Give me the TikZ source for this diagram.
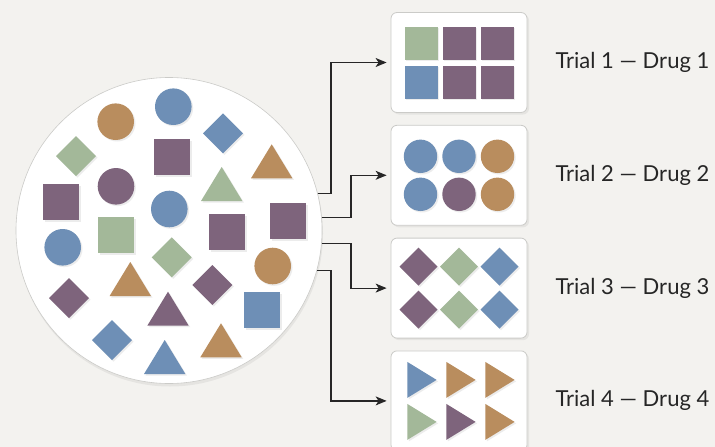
\documentclass[tikz,border=0pt]{standalone}
\usepackage{fontspec}
\setmainfont{Lato}
\usepackage{xcolor}
\usetikzlibrary{arrows.meta,positioning,shadows}
\definecolor{paper}{HTML}{F3F2EF}
\definecolor{plum}{HTML}{7E647C}
\definecolor{sage}{HTML}{A3B899}
\definecolor{steel}{HTML}{6E8FB6}
\definecolor{ochre}{HTML}{B98D5E}
\definecolor{rim}{HTML}{CBCBC8}
\definecolor{ink}{HTML}{262626}

\begin{document}
\begin{tikzpicture}[
  x=1pt,y=-1pt,
  pool/.style={circle,fill=white,draw=rim,line width=0.6pt,minimum size=306pt,inner sep=0pt,
    drop shadow={opacity=0.12,shadow xshift=1pt,shadow yshift=-3pt}},
  trialbox/.style={rectangle,rounded corners=6pt,fill=white,draw=rim,line width=0.8pt,
    minimum width=136pt,minimum height=100pt,inner sep=0pt,
    drop shadow={opacity=0.12,shadow xshift=2pt,shadow yshift=-2pt}},
  shp/.style={drop shadow={opacity=0.15,shadow xshift=1.5pt,shadow yshift=-1.5pt}},
  lbl/.style={inner sep=0pt,text=ink,font=\fontsize{22}{26}\selectfont},
  arr/.style={-{Stealth[length=11pt,width=9pt,inset=3pt]},line width=1.2pt,draw=ink,shorten >=4pt}
]
\useasboundingbox (0,0) rectangle (715,447);
\fill[paper] (0,0) rectangle (715,447);
\clip (0,0) rectangle (715,447);

% population
\node[pool] (pool) at (169,230.5) {};
\foreach \c/\x/\y in {ochre/115.7/121.7, steel/173.3/106.7, plum/116/186.3,
    steel/169.3/209, steel/62.7/247.3, ochre/272.7/266}
  \fill[\c,shp] (\x,\y) circle[radius=18.3];
\foreach \c/\x/\y in {plum/172/157, plum/61/202, plum/227/232,
    plum/288/221, sage/116/235, steel/262/310}
  \fill[\c,shp] (\x,\y) ++(-18,-18) rectangle ++(36,36);
\foreach \c/\x/\y in {steel/223/133.3, sage/76/156, sage/171.7/257.3,
    plum/212.3/285, plum/69/298, steel/112/340}
  \fill[\c,shp] (\x,\y) ++(0,-20) -- ++(20,20) -- ++(-20,20) -- ++(-20,-20) -- cycle;
\foreach \c/\x/\y in {ochre/271.7/144.3, sage/221.7/167, ochre/130.3/262,
    plum/168/291.7, ochre/221/323.3, steel/164.7/340}
  \fill[\c,shp] (\x,\y) -- ++(20.7,34) -- ++(-41.4,0) -- cycle;

% trials
\node[trialbox] (t1) at (459,62.5) {};
\node[trialbox,below=12pt of t1] (t2) {};
\node[trialbox,below=12pt of t2] (t3) {};
\node[trialbox,below=12pt of t3] (t4) {};

\begin{scope}[shift={(t1)}]
\foreach \c/\x/\y in {sage/-38/-19.5, plum/0/-19.5, plum/38/-19.5,
    steel/-38/19.5, plum/0/19.5, plum/38/19.5}
  \fill[\c,shp] (\x,\y) ++(-16.5,-16.5) rectangle ++(33,33);
\end{scope}
\begin{scope}[shift={(t2)}]
\foreach \c/\x/\y in {steel/-38.5/-19, steel/0/-19, ochre/38.5/-19,
    steel/-38.5/19, plum/0/19, ochre/38.5/19}
  \fill[\c,shp] (\x,\y) circle[radius=16.7];
\end{scope}
\begin{scope}[shift={(t3)}]
\foreach \c/\x/\y in {plum/-40.5/-21.5, sage/0/-21.5, steel/40.5/-21.5,
    plum/-40.5/21.5, sage/0/21.5, steel/40.5/21.5}
  \fill[\c,shp] (\x,\y) ++(0,-19) -- ++(19,19) -- ++(-19,19) -- ++(-19,-19) -- cycle;
\end{scope}
\begin{scope}[shift={(t4)}]
\foreach \c/\x/\y in {steel/-51.7/-21, ochre/-12.7/-21, ochre/26.3/-21,
    sage/-51.7/21, plum/-12.7/21, ochre/26.3/21}
  \fill[\c,shp] (\x,\y) ++(0,-18) -- ++(29.3,18) -- ++(-29.3,18) -- cycle;
\end{scope}

% connectors
\coordinate (elbowA) at (331,0);
\coordinate (elbowB) at (351,0);
\draw[arr] (pool.14) -- (pool.14 -| elbowA) |- (t1);
\draw[arr] (pool.5) -- (pool.5 -| elbowB) |- (t2);
\draw[arr] (pool.-5) -- (pool.-5 -| elbowB) |- (t3);
\draw[arr] (pool.-15) -- (pool.-15 -| elbowA) |- (t4);

% labels
\node[lbl,right=28pt of t1] (l1) {Trial 1 — Drug 1};
\node[lbl,right=28pt of t2] (l2) {Trial 2 — Drug 2};
\node[lbl,right=28pt of t3] (l3) {Trial 3 — Drug 3};
\node[lbl,right=28pt of t4] (l4) {Trial 4 — Drug 4};
\end{tikzpicture}
\end{document}
